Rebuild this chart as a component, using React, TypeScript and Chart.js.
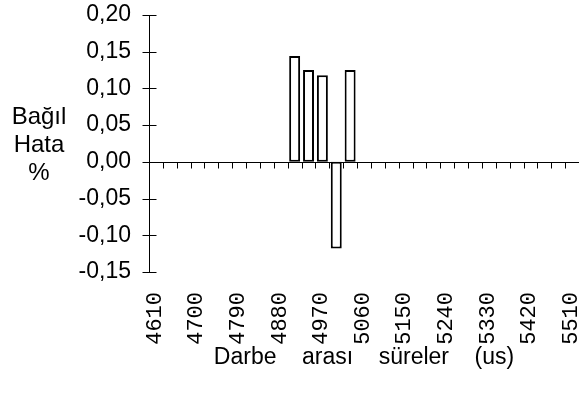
import React, { useEffect, useRef } from 'react';
import { Chart, registerables } from 'chart.js';

Chart.register(...registerables);

const categories = [
  '4610', '4640', '4670', '4700', '4730', '4760', '4790', '4820', '4850', '4880',
  '4910', '4940', '4970', '5000', '5030', '5060', '5090', '5120', '5150', '5180',
  '5210', '5240', '5270', '5300', '5330', '5360', '5390', '5420', '5450', '5480', '5510',
];

const relativeError = [
  null, null, null, null, null, null, null, null, null, null,
  0.144, 0.125, 0.118, -0.118, 0.125,
  null, null, null, null, null, null, null, null, null, null, null, null, null, null, null, null,
];

const tickLabels = ['4610', '4700', '4790', '4880', '4970', '5060', '5150', '5240', '5330', '5420', '5510'];

const yMin = -0.15;
const yMax = 0.2;
const yStep = 0.05;

const yAxisTitle = ['Bağıl', 'Hata', '%'];
const xAxisTitle = 'Darbe    arası    süreler    (us)';

const SANS = '"Liberation Sans", Arial, sans-serif';
const MONO = '"Liberation Mono", "Courier New", monospace';

const fmt = (v: number) => {
  const n = Math.abs(v) < 1e-9 ? 0 : v;
  return n.toFixed(2).replace('.', ',');
};

const axesPlugin = {
  id: 'axesPlugin',
  afterDatasetsDraw(chart: any) {
    const { ctx, chartArea, scales } = chart;
    const xs = scales.x;
    const ys = scales.y;
    ctx.save();
    ctx.strokeStyle = '#000';
    ctx.lineWidth = 1;
    const ax = Math.round(chartArea.left) + 0.5;
    ctx.beginPath();
    ctx.moveTo(ax, Math.round(ys.getPixelForValue(yMax)) + 0.5);
    ctx.lineTo(ax, Math.round(ys.getPixelForValue(yMin)) + 0.5);
    ys.ticks.forEach((t: any) => {
      const py = Math.round(ys.getPixelForValue(t.value)) + 0.5;
      ctx.moveTo(ax - 7, py);
      ctx.lineTo(ax + 7, py);
    });
    const zy = Math.round(ys.getPixelForValue(0)) + 0.5;
    ctx.moveTo(ax, zy);
    ctx.lineTo(chartArea.right, zy);
    const n = categories.length;
    const w = (xs.getPixelForValue(n - 1) - xs.getPixelForValue(0)) / (n - 1);
    for (let i = 1; i <= n; i++) {
      const bx = Math.round(xs.getPixelForValue(i - 1) + w / 2) + 0.5;
      ctx.moveTo(bx, zy);
      ctx.lineTo(bx, zy + 6);
    }
    ctx.stroke();
    ctx.restore();
  },
};

const textPlugin = {
  id: 'textPlugin',
  afterDraw(chart: any) {
    const { ctx, chartArea, scales } = chart;
    const xs = scales.x;
    ctx.save();
    ctx.fillStyle = '#000';
    ctx.font = `24px ${SANS}`;
    ctx.textAlign = 'center';
    ctx.textBaseline = 'alphabetic';
    const baselines = [124, 152, 180];
    yAxisTitle.forEach((line, i) => ctx.fillText(line, 39, baselines[i]));
    ctx.font = `22px ${MONO}`;
    categories.forEach((c, i) => {
      if (!tickLabels.includes(c)) return;
      const px = xs.getPixelForValue(i) - 1;
      ctx.save();
      ctx.translate(px, chartArea.bottom + 20);
      ctx.rotate(-Math.PI / 2);
      ctx.textAlign = 'right';
      ctx.textBaseline = 'middle';
      ctx.fillText(c, 0, 0);
      ctx.restore();
    });
    ctx.restore();
  },
};

export default function App() {
  const ref = useRef<HTMLCanvasElement | null>(null);

  useEffect(() => {
    if (!ref.current) return;
    Chart.defaults.color = '#000';
    const chart = new Chart(ref.current, {
      type: 'bar',
      data: {
        labels: categories,
        datasets: [
          {
            data: relativeError as any,
            backgroundColor: '#ffffff',
            borderColor: '#000000',
            borderWidth: 2,
            borderSkipped: false,
            barPercentage: 0.79,
            categoryPercentage: 1,
          },
        ],
      },
      options: {
        responsive: false,
        animation: false,
        devicePixelRatio: 1,
        layout: { padding: { top: 15, left: 0, right: 0, bottom: 0 } },
        plugins: { legend: { display: false }, tooltip: { enabled: false } },
        scales: {
          x: {
            type: 'category',
            offset: true,
            grid: { display: false, drawTicks: false },
            border: { display: false },
            ticks: { display: false },
            title: {
              display: true,
              text: xAxisTitle,
              color: '#000',
              font: { family: SANS, size: 23 },
              padding: { top: 0, bottom: 28 },
            },
            afterFit: (s: any) => {
              s.height = 127;
              s.paddingLeft = 0;
              s.paddingRight = 0;
            },
          },
          y: {
            min: yMin,
            max: yMax,
            grid: { display: false, drawTicks: false },
            border: { display: false },
            ticks: {
              stepSize: yStep,
              padding: 18,
              color: '#000',
              font: { family: SANS, size: 23 },
              callback: (v: any) => fmt(Number(v)),
            },
            afterFit: (s: any) => {
              s.width = 149;
              s.paddingTop = 0;
              s.paddingBottom = 0;
            },
          },
        },
      } as any,
      plugins: [axesPlugin, textPlugin],
    });
    return () => chart.destroy();
  }, []);

  return (
    <div style={{ position: 'fixed', left: 0, top: 0, width: 579, height: 399, background: '#fff' }}>
      <canvas ref={ref} width={579} height={399} style={{ display: 'block' }} />
    </div>
  );
}
